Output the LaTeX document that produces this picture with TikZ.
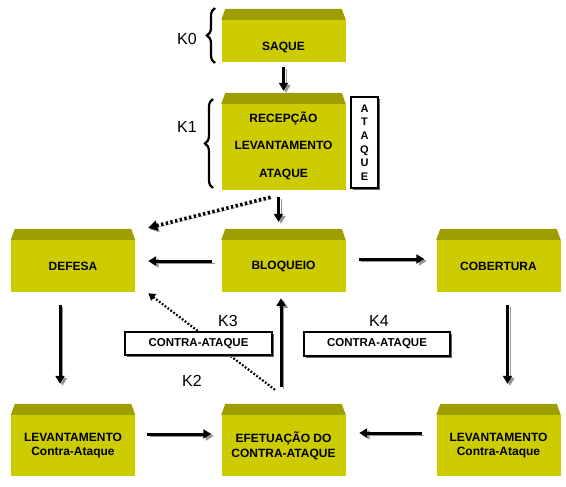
\documentclass[tikz,border=0pt]{standalone}
\usepackage{fontspec}
\setmainfont{Liberation Sans}
\usetikzlibrary{arrows.meta,decorations.pathreplacing,shadows}
\definecolor{frontc}{RGB}{204,204,0}
\definecolor{bevelc}{RGB}{158,158,0}
\definecolor{shadc}{RGB}{150,150,150}
\tikzset{
 ybox/.style={fill=frontc, inner sep=0pt, minimum width=124pt, align=center, font=\bfseries\fontsize{12}{14.8}\selectfont},
 wbox/.style={draw=black, line width=1.4pt, fill=white, inner sep=0pt, align=center, font=\bfseries\fontsize{11.5}{12}\selectfont, drop shadow={shadow xshift=2pt, shadow yshift=-2pt, fill=black!60, opacity=1}},
 klab/.style={font=\fontsize{16}{18}\selectfont, inner sep=0pt},
 arr/.style={line width=3pt, -{Triangle[length=8pt,width=9pt]}, preaction={draw=shadc, transform canvas={shift={(2.5pt,-2pt)}}}},
 dotarr/.style={line width=3.5pt, dash pattern=on 2.4pt off 2.4pt, -{Triangle[length=9pt,width=10pt]}, preaction={draw=shadc, transform canvas={shift={(1.5pt,-1.5pt)}}}},
 thindot/.style={line width=2.2pt, dash pattern=on 1.8pt off 1.8pt, -{Triangle[length=7pt,width=8pt]}},
 kbrace/.style={decorate, decoration={brace, amplitude=8pt}, line width=2.2pt}
}
\begin{document}
\begin{tikzpicture}[x=1pt,y=-1pt]
\useasboundingbox (0,0) rectangle (566,487);
% yellow boxes
\node[ybox, minimum height=42pt] (saque) at (283.5,41) {\raisebox{-10pt}[0pt][0pt]{SAQUE}};
\node[ybox, minimum height=86pt, text depth=5pt, font=\bfseries\fontsize{12}{27.5}\selectfont] (k1) at (283.5,147) {RECEPÇÃO\\LEVANTAMENTO\\ATAQUE};
\node[ybox, minimum height=52pt] (defesa) at (73,266) {DEFESA};
\node[ybox, minimum height=52pt] (bloq) at (283.5,266) {BLOQUEIO};
\node[ybox, minimum height=52pt] (cob) at (498.5,266) {COBERTURA};
\node[ybox, minimum height=61pt] (levl) at (73,445.5) {LEVANTAMENTO\\Contra-Ataque};
\node[ybox, minimum height=61pt] (efet) at (283.5,445.5) {EFETUAÇÃO DO\\CONTRA-ATAQUE};
\node[ybox, minimum height=61pt] (levr) at (498.5,445.5) {LEVANTAMENTO\\Contra-Ataque};
\foreach \n in {saque,k1,defesa,bloq,cob,levl,efet,levr}
  \fill[bevelc] (\n.north west) -- (\n.north east) -- ([shift={(-4,-11)}]\n.north east) -- ([shift={(4,-11)}]\n.north west) -- cycle;
% vertical ATAQUE box
\node[wbox, minimum width=27pt, minimum height=91pt, font=\bfseries\fontsize{11}{13.6}\selectfont] (atq) at (364.5,142.5) {A\\T\\A\\Q\\U\\E};
% braces
\coordinate (b0a) at (215,63); \coordinate (b0b) at (215,8);
\coordinate (b1a) at (213,188); \coordinate (b1b) at (213,99);
\draw[kbrace] (b0a) -- (b0b);
\draw[kbrace] (b1a) -- (b1b);
% connectors
\draw[arr, shorten <=5pt, shorten >=13pt] (saque.south) -- (k1.north);
\draw[arr] ([shift={(-5,7)}]k1.south) -- ([shift={(-5,-18)}]bloq.north);
\draw[dotarr] ([shift={(-13,7)}]k1.south) -- ([shift={(13,-12)}]defesa.north east);
\draw[arr] ([shift={(-9,-5)}]bloq.west) -- ([shift={(13,-5)}]defesa.east);
\draw[arr] ([shift={(13,-7)}]bloq.east) -- ([shift={(-12,-7)}]cob.west);
\draw[arr] ([shift={(-13,13)}]defesa.south) -- ([shift={(-13,-31)}]levl.north);
\draw[arr] ([shift={(9,13)}]cob.south) -- ([shift={(9,-31)}]levr.north);
\draw[arr] ([shift={(12,-11.5)}]levl.east) -- ([shift={(-10,-11.5)}]efet.west);
\draw[arr] ([shift={(-14.5,-12.5)}]levr.west) -- ([shift={(13.5,-12.5)}]efet.east);
\draw[arr] ([shift={(-2.5,-28)}]efet.north) -- ([shift={(-2.5,6)}]bloq.south);
\draw[thindot] ([shift={(-8.5,-25)}]efet.north) -- ([shift={(13,1)}]defesa.south east);
% contra-ataque boxes
\node[wbox, minimum width=147pt, minimum height=23pt] (ca1) at (198.5,343.5) {CONTRA-ATAQUE};
\node[wbox, minimum width=146pt, minimum height=24pt] (ca2) at (377,344) {CONTRA-ATAQUE};
% labels
\node[klab] (k0l) at (187,39) {K0};
\node[klab] (k1l) at (187,127) {K1};
\node[klab] (k3l) at (228,321) {K3};
\node[klab] (k2l) at (192,381) {K2};
\node[klab] (k4l) at (379,321) {K4};
\end{tikzpicture}
\end{document}
